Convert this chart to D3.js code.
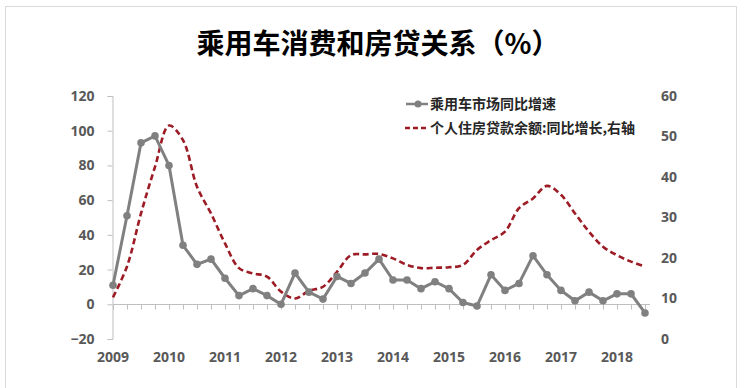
<!DOCTYPE html>
<html>
<head>
<meta charset="utf-8">
<script src="https://cdn.jsdelivr.net/npm/d3@7"></script>
<style>
  body { margin: 0; background: #fff; }
  svg { display: block; font-family: "Noto Sans CJK SC", "Open Sans", sans-serif; }
</style>
</head>
<body>
<svg width="744" height="388"></svg>
<script>
// --- Data (quarterly, 2009Q1 - 2018Q3) ---
const quarters = d3.range(39); // index of quarter since 2009Q1
const yearLabels = ["2009","2010","2011","2012","2013","2014","2015","2016","2017","2018"];

// 乘用车市场同比增速 (left axis)
const carGrowth = [
  11, 51, 93, 97, 80, 34, 23, 26, 15, 5,
  9, 5, 0, 18, 7, 3, 16, 12, 18, 26,
  14, 14, 9, 13, 9, 1, -1, 17, 8, 12,
  28, 17, 8, 2, 7, 2, 6, 6, -5
];

// 个人住房贷款余额:同比增长 (right axis)
const mortgageGrowth = [
  10.3, 17.9, 31, 42.5, 52.7, 49.1, 37.6, 31, 23.6, 17.5,
  16.2, 15.4, 11.7, 10, 11.9, 12.9, 16.6, 20.7, 20.9, 21,
  19.9, 18.3, 17.5, 17.6, 17.7, 18.3, 22, 24.4, 26.5, 32.3,
  34.7, 37.8, 35.6, 31, 26.5, 22.8, 20.7, 19.1, 17.9
];

const leftTicks = [-20, 0, 20, 40, 60, 80, 100, 120];
const rightTicks = [0, 10, 20, 30, 40, 50, 60];

const seriesNames = ["乘用车市场同比增速", "个人住房贷款余额:同比增长,右轴"];
const grayColor = "#808080", redColor = "#9c1b24";

// --- Setup ---
const svg = d3.select("svg");

// border
svg.append("rect")
  .attr("x", 5.5).attr("y", 6.5)
  .attr("width", 731).attr("height", 400)
  .attr("fill", "none").attr("stroke", "#d9d9d9");

// title
svg.append("text")
  .attr("x", 378).attr("y", 54)
  .attr("text-anchor", "middle")
  .attr("font-size", "28px").attr("font-weight", 700)
  .attr("fill", "#000")
  .text("乘用车消费和房贷关系（%）");

// --- Scales ---
const x = d3.scaleLinear().domain([0, 38]).range([113, 645]);
const yL = d3.scaleLinear().domain([-20, 120]).range([339, 96]);
const yR = d3.scaleLinear().domain([0, 60]).range([339, 96]);

// --- Left axis ---
const leftAxis = svg.append("g").attr("transform", "translate(112.5,0)")
  .call(d3.axisLeft(yL).tickValues(leftTicks).tickSize(5).tickPadding(13));
leftAxis.select(".domain").attr("stroke", "#bfbfbf");
leftAxis.selectAll(".tick line").attr("stroke", "#bfbfbf");
leftAxis.selectAll("text")
  .attr("font-size", "14px").attr("font-weight", 700)
  .attr("fill", "#595959").attr("font-family", "Open Sans, sans-serif");

// --- Right axis (labels only) ---
const rightAxis = svg.append("g").attr("transform", "translate(652,0)")
  .call(d3.axisRight(yR).tickValues(rightTicks).tickSize(0).tickPadding(9));
rightAxis.select(".domain").remove();
rightAxis.selectAll("text")
  .attr("font-size", "14px").attr("font-weight", 700)
  .attr("fill", "#595959").attr("font-family", "Open Sans, sans-serif");

// --- X axis at zero ---
const xAxis = svg.append("g").attr("transform", `translate(0,${Math.round(yL(0)) + 0.5})`)
  .call(d3.axisBottom(x).tickValues(quarters).tickSize(5).tickFormat(""));
xAxis.select(".domain").attr("stroke", "#bfbfbf").attr("d", `M${x(0)},0H${x(38) + 5}`);
xAxis.selectAll(".tick line").attr("stroke", "#bfbfbf");

// year labels below the plot
svg.append("g").selectAll("text")
  .data(yearLabels)
  .enter().append("text")
    .attr("x", (d, i) => x(i * 4))
    .attr("y", 362)
    .attr("text-anchor", "middle")
    .attr("font-size", "14px").attr("font-weight", 700)
    .attr("font-family", "Open Sans, sans-serif")
    .attr("fill", "#595959")
    .text(d => d);

// --- Mortgage line (right axis) ---
const redLine = d3.line().x((d, i) => x(i)).y(d => yR(d)).curve(d3.curveCatmullRom);
svg.append("path")
  .datum(mortgageGrowth)
  .attr("d", redLine)
  .attr("fill", "none")
  .attr("stroke", redColor)
  .attr("stroke-width", 2.6)
  .attr("stroke-dasharray", "6,3.5");

// --- Car growth line (left axis) ---
const grayLine = d3.line().x((d, i) => x(i)).y(d => yL(d));
svg.append("path")
  .datum(carGrowth)
  .attr("d", grayLine)
  .attr("fill", "none")
  .attr("stroke", grayColor)
  .attr("stroke-width", 3);
svg.append("g").selectAll("circle")
  .data(carGrowth)
  .enter().append("circle")
    .attr("cx", (d, i) => x(i))
    .attr("cy", d => yL(d))
    .attr("r", 3.8)
    .attr("fill", grayColor);

// --- Legend ---
const legend = svg.append("g");
legend.append("line")
  .attr("x1", 406).attr("x2", 428).attr("y1", 104).attr("y2", 104)
  .attr("stroke", grayColor).attr("stroke-width", 2.5);
legend.append("circle")
  .attr("cx", 418).attr("cy", 104).attr("r", 3.5).attr("fill", grayColor);
legend.append("line")
  .attr("x1", 405).attr("x2", 429).attr("y1", 128).attr("y2", 128)
  .attr("stroke", redColor).attr("stroke-width", 2.6)
  .attr("stroke-dasharray", "5,3");
legend.selectAll("text")
  .data(seriesNames)
  .enter().append("text")
    .attr("x", 430)
    .attr("y", (d, i) => 109 + i * 24)
    .attr("font-size", "14px").attr("font-weight", 700)
    .attr("fill", "#262626")
    .text(d => d);
</script>
</body>
</html>
